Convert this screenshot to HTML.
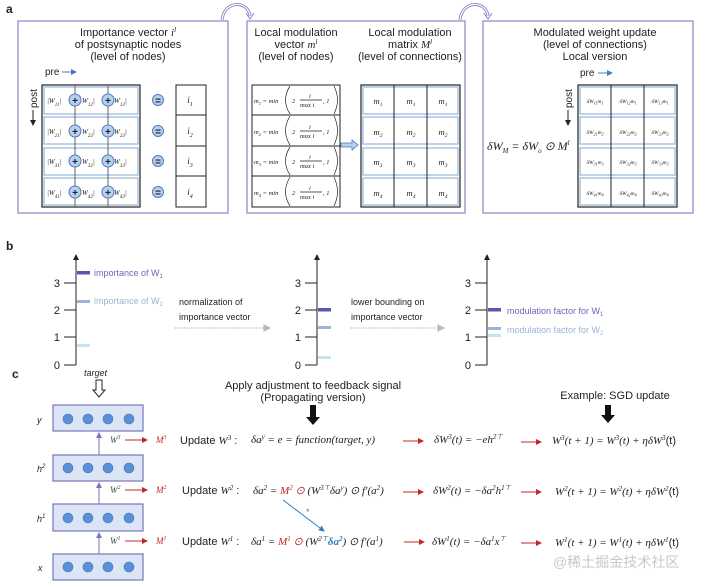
<!DOCTYPE html>
<html><head><meta charset="utf-8"><style>
body{margin:0;background:#fff;}
svg{display:block;}
.s{font-family:"Liberation Sans",sans-serif;}
.m{font-family:"Liberation Serif",serif;font-style:italic;}
</style></head><body>
<svg width="701" height="586" viewBox="0 0 701 586" xmlns="http://www.w3.org/2000/svg">
<defs>
<marker id="ab" markerWidth="6" markerHeight="6" refX="5" refY="3" orient="auto"><path d="M0,0 L6,3 L0,6z" fill="#4a7bc0"/></marker>
<marker id="ar" markerWidth="6" markerHeight="6" refX="5" refY="3" orient="auto"><path d="M0,0 L6,3 L0,6z" fill="#c0282b"/></marker>
<marker id="ak" markerWidth="6" markerHeight="6" refX="3" refY="3" orient="auto"><path d="M0,0 L6,3 L0,6z" fill="#222"/></marker>
<marker id="ap" markerWidth="6" markerHeight="6" refX="5" refY="3" orient="auto"><path d="M0,0 L6,3 L0,6z" fill="#7a76b8"/></marker>
<marker id="ag" markerWidth="6" markerHeight="6" refX="5" refY="3" orient="auto"><path d="M0,0 L6,3 L0,6z" fill="#bbb"/></marker>
<marker id="abl" markerWidth="6" markerHeight="6" refX="5" refY="3" orient="auto"><path d="M0,0 L6,3 L0,6z" fill="#2f7fc0"/></marker>
</defs>
<g class="s" font-size="12" fill="#222">
<text x="6" y="13" font-weight="bold" font-size="12">a</text>
<text x="6" y="250" font-weight="bold">b</text>
<text x="12" y="378" font-weight="bold">c</text>
</g>
<g fill="none" stroke="#8a85c8" stroke-width="1.2">
<rect x="18" y="21" width="210" height="192"/>
<rect x="247" y="21" width="218" height="192"/>
<rect x="483" y="21" width="210" height="192"/>
</g>
<path d="M222,20 C224,0 248,0 250,16" fill="none" stroke="#8a85c8" stroke-width="3"/>
<path d="M222,20 C224,0 248,0 250,16" fill="none" stroke="#fff" stroke-width="1.2"/>
<path d="M246,13 L250,19 L254,13" fill="none" stroke="#8a85c8" stroke-width="1"/>
<path d="M460,20 C462,0 486,0 488,16" fill="none" stroke="#8a85c8" stroke-width="3"/>
<path d="M460,20 C462,0 486,0 488,16" fill="none" stroke="#fff" stroke-width="1.2"/>
<path d="M484,13 L488,19 L492,13" fill="none" stroke="#8a85c8" stroke-width="1"/>
<g class="s" font-size="11" fill="#222" text-anchor="middle">
<text x="128" y="36">Importance vector <tspan class="m">i</tspan><tspan font-size="7" dy="-4" class="m">l</tspan></text>
<text x="128" y="48">of postsynaptic nodes</text>
<text x="128" y="60">(level of nodes)</text>
<text x="296" y="36">Local modulation</text>
<text x="296" y="48">vector <tspan class="m">m</tspan><tspan font-size="7" dy="-4" class="m">l</tspan></text>
<text x="296" y="60">(level of nodes)</text>
<text x="410" y="36">Local modulation</text>
<text x="410" y="48">matrix <tspan class="m">M</tspan><tspan font-size="7" dy="-4" class="m">l</tspan></text>
<text x="410" y="60">(level of connections)</text>
<text x="595" y="36">Modulated weight update</text>
<text x="595" y="48">(level of connections)</text>
<text x="595" y="60">Local version</text>
</g>
<g class="s" font-size="10" fill="#222">
<text x="45" y="75">pre</text>
<text x="580" y="76">pre</text>
<text transform="translate(37,108) rotate(-90)">post</text>
<text transform="translate(572,108) rotate(-90)">post</text>
</g>
<line x1="62" y1="72" x2="76" y2="72" stroke="#4a7bc0" marker-end="url(#ab)"/>
<line x1="598" y1="73" x2="612" y2="73" stroke="#4a7bc0" marker-end="url(#ab)"/>
<line x1="33" y1="110" x2="33" y2="123" stroke="#222" marker-end="url(#ak)"/>
<line x1="568" y1="110" x2="568" y2="123" stroke="#222" marker-end="url(#ak)"/>
<g>
<rect x="42" y="85" width="98" height="122" fill="none" stroke="#222" stroke-width="1.2"/>
<g fill="none" stroke="#a9c4e0" stroke-width="1.5">
<rect x="44" y="87" width="94" height="27"/><rect x="44" y="117" width="94" height="27"/><rect x="44" y="148" width="94" height="27"/><rect x="44" y="178" width="94" height="27"/>
</g>
<line x1="75" y1="85" x2="75" y2="207" stroke="#666"/><line x1="108" y1="85" x2="108" y2="207" stroke="#666"/>
<g fill="#b8d0ef" stroke="#4a7bc0" stroke-width="1">
<circle cx="75" cy="100" r="6"/><circle cx="108" cy="100" r="6"/>
<circle cx="75" cy="131" r="6"/><circle cx="108" cy="131" r="6"/>
<circle cx="75" cy="161" r="6"/><circle cx="108" cy="161" r="6"/>
<circle cx="75" cy="192" r="6"/><circle cx="108" cy="192" r="6"/>
<circle cx="158" cy="100" r="5.5"/><circle cx="158" cy="131" r="5.5"/><circle cx="158" cy="161" r="5.5"/><circle cx="158" cy="192" r="5.5"/>
</g>
<g class="s" font-size="10" font-weight="bold" fill="#222" text-anchor="middle">
<text x="75" y="104">+</text><text x="108" y="104">+</text><text x="75" y="135">+</text><text x="108" y="135">+</text>
<text x="75" y="165">+</text><text x="108" y="165">+</text><text x="75" y="196">+</text><text x="108" y="196">+</text>
<text x="158" y="104">=</text><text x="158" y="135">=</text><text x="158" y="165">=</text><text x="158" y="196">=</text>
</g>
<g class="m" font-size="7" fill="#222">
<text x="47" y="103">|W<tspan font-size="5" dy="3">11</tspan><tspan dy="-3">|</tspan></text><text x="82" y="103">W<tspan font-size="5" dy="3">12</tspan><tspan dy="-3">|</tspan></text><text x="114" y="103">W<tspan font-size="5" dy="3">13</tspan><tspan dy="-3">|</tspan></text>
<text x="47" y="134">|W<tspan font-size="5" dy="3">21</tspan><tspan dy="-3">|</tspan></text><text x="82" y="134">W<tspan font-size="5" dy="3">22</tspan><tspan dy="-3">|</tspan></text><text x="114" y="134">W<tspan font-size="5" dy="3">23</tspan><tspan dy="-3">|</tspan></text>
<text x="47" y="164">|W<tspan font-size="5" dy="3">31</tspan><tspan dy="-3">|</tspan></text><text x="82" y="164">W<tspan font-size="5" dy="3">32</tspan><tspan dy="-3">|</tspan></text><text x="114" y="164">W<tspan font-size="5" dy="3">33</tspan><tspan dy="-3">|</tspan></text>
<text x="47" y="195">|W<tspan font-size="5" dy="3">41</tspan><tspan dy="-3">|</tspan></text><text x="82" y="195">W<tspan font-size="5" dy="3">42</tspan><tspan dy="-3">|</tspan></text><text x="114" y="195">W<tspan font-size="5" dy="3">43</tspan><tspan dy="-3">|</tspan></text>
</g>
</g>
<rect x="176" y="85" width="30" height="122" fill="none" stroke="#222"/>
<g stroke="#222"><line x1="176" y1="115" x2="206" y2="115"/><line x1="176" y1="146" x2="206" y2="146"/><line x1="176" y1="176" x2="206" y2="176"/></g>
<g class="m" font-size="9" fill="#222" text-anchor="middle">
<text x="190" y="103">i<tspan font-size="6" dy="3">1</tspan></text><text x="190" y="134">i<tspan font-size="6" dy="3">2</tspan></text><text x="190" y="164">i<tspan font-size="6" dy="3">3</tspan></text><text x="190" y="195">i<tspan font-size="6" dy="3">4</tspan></text>
</g>
<rect x="252" y="85" width="88" height="122" fill="none" stroke="#222"/>
<g stroke="#222"><line x1="252" y1="115" x2="340" y2="115"/><line x1="252" y1="146" x2="340" y2="146"/><line x1="252" y1="176" x2="340" y2="176"/></g>
<g fill="none" stroke="#222" stroke-width="0.7">
<path d="M290,86 Q281,100 290,114 M334,86 Q341,100 334,114"/>
<path d="M290,116 Q281,131 290,145 M334,116 Q341,131 334,145"/>
<path d="M290,147 Q281,161 290,175 M334,147 Q341,161 334,175"/>
<path d="M290,177 Q281,192 290,206 M334,177 Q341,192 334,206"/>
<line x1="300" y1="100" x2="322" y2="100"/><line x1="300" y1="131" x2="322" y2="131"/><line x1="300" y1="161" x2="322" y2="161"/><line x1="300" y1="192" x2="322" y2="192"/>
</g>
<g class="m" font-size="6.5" fill="#222">
<text x="254" y="103">m<tspan font-size="4.5" dy="2">1</tspan><tspan dy="-2"> = min</tspan></text><text x="292" y="103">2</text><text x="309" y="98">i</text><text x="300" y="107">max i</text><text x="323" y="103">, 1</text>
<text x="254" y="134">m<tspan font-size="4.5" dy="2">2</tspan><tspan dy="-2"> = min</tspan></text><text x="292" y="134">2</text><text x="309" y="129">i</text><text x="300" y="138">max i</text><text x="323" y="134">, 1</text>
<text x="254" y="164">m<tspan font-size="4.5" dy="2">3</tspan><tspan dy="-2"> = min</tspan></text><text x="292" y="164">2</text><text x="309" y="159">i</text><text x="300" y="168">max i</text><text x="323" y="164">, 1</text>
<text x="254" y="195">m<tspan font-size="4.5" dy="2">4</tspan><tspan dy="-2"> = min</tspan></text><text x="292" y="195">2</text><text x="309" y="190">i</text><text x="300" y="199">max i</text><text x="323" y="195">, 1</text>
</g>
<path d="M341,143 h11 v-3 l6,5 l-6,5 v-3 h-11z" fill="#b8d0ef" stroke="#4a7bc0" stroke-width="0.8"/>
<rect x="361" y="85" width="99" height="122" fill="none" stroke="#222" stroke-width="1.2"/>
<g fill="none" stroke="#a9c4e0" stroke-width="1.5">
<rect x="363" y="87" width="95" height="27"/><rect x="363" y="117" width="95" height="27"/><rect x="363" y="148" width="95" height="27"/><rect x="363" y="178" width="95" height="27"/>
</g>
<g stroke="#222"><line x1="394" y1="85" x2="394" y2="207"/><line x1="427" y1="85" x2="427" y2="207"/></g>
<g class="m" font-size="8.5" fill="#222" text-anchor="middle">
<text x="378" y="104">m<tspan font-size="5.5" dy="2">1</tspan></text><text x="411" y="104">m<tspan font-size="5.5" dy="2">1</tspan></text><text x="443" y="104">m<tspan font-size="5.5" dy="2">1</tspan></text>
<text x="378" y="135">m<tspan font-size="5.5" dy="2">2</tspan></text><text x="411" y="135">m<tspan font-size="5.5" dy="2">2</tspan></text><text x="443" y="135">m<tspan font-size="5.5" dy="2">2</tspan></text>
<text x="378" y="165">m<tspan font-size="5.5" dy="2">3</tspan></text><text x="411" y="165">m<tspan font-size="5.5" dy="2">3</tspan></text><text x="443" y="165">m<tspan font-size="5.5" dy="2">3</tspan></text>
<text x="378" y="196">m<tspan font-size="5.5" dy="2">4</tspan></text><text x="411" y="196">m<tspan font-size="5.5" dy="2">4</tspan></text><text x="443" y="196">m<tspan font-size="5.5" dy="2">4</tspan></text>
</g>
<text x="487" y="150" class="m" font-size="12" fill="#222">δW<tspan font-size="7" dy="3">M</tspan><tspan dy="-3"> = δW</tspan><tspan font-size="7" dy="3">o</tspan><tspan dy="-3"> ⊙ M</tspan><tspan font-size="7" dy="-5">l</tspan></text>
<rect x="578" y="85" width="99" height="122" fill="none" stroke="#222" stroke-width="1.2"/>
<g fill="none" stroke="#a9c4e0" stroke-width="1.5">
<rect x="580" y="87" width="95" height="27"/><rect x="580" y="117" width="95" height="27"/><rect x="580" y="148" width="95" height="27"/><rect x="580" y="178" width="95" height="27"/>
</g>
<g stroke="#222"><line x1="611" y1="85" x2="611" y2="207"/><line x1="644" y1="85" x2="644" y2="207"/></g>
<g class="m" font-size="5.5" fill="#222" text-anchor="middle">
<text x="595" y="103">δW<tspan font-size="4" dy="1.5">11</tspan><tspan dy="-1.5">m</tspan><tspan font-size="4" dy="1.5">1</tspan></text><text x="628" y="103">δW<tspan font-size="4" dy="1.5">12</tspan><tspan dy="-1.5">m</tspan><tspan font-size="4" dy="1.5">1</tspan></text><text x="660" y="103">δW<tspan font-size="4" dy="1.5">13</tspan><tspan dy="-1.5">m</tspan><tspan font-size="4" dy="1.5">1</tspan></text>
<text x="595" y="134">δW<tspan font-size="4" dy="1.5">21</tspan><tspan dy="-1.5">m</tspan><tspan font-size="4" dy="1.5">2</tspan></text><text x="628" y="134">δW<tspan font-size="4" dy="1.5">22</tspan><tspan dy="-1.5">m</tspan><tspan font-size="4" dy="1.5">2</tspan></text><text x="660" y="134">δW<tspan font-size="4" dy="1.5">23</tspan><tspan dy="-1.5">m</tspan><tspan font-size="4" dy="1.5">2</tspan></text>
<text x="595" y="164">δW<tspan font-size="4" dy="1.5">31</tspan><tspan dy="-1.5">m</tspan><tspan font-size="4" dy="1.5">3</tspan></text><text x="628" y="164">δW<tspan font-size="4" dy="1.5">32</tspan><tspan dy="-1.5">m</tspan><tspan font-size="4" dy="1.5">3</tspan></text><text x="660" y="164">δW<tspan font-size="4" dy="1.5">33</tspan><tspan dy="-1.5">m</tspan><tspan font-size="4" dy="1.5">3</tspan></text>
<text x="595" y="195">δW<tspan font-size="4" dy="1.5">41</tspan><tspan dy="-1.5">m</tspan><tspan font-size="4" dy="1.5">4</tspan></text><text x="628" y="195">δW<tspan font-size="4" dy="1.5">42</tspan><tspan dy="-1.5">m</tspan><tspan font-size="4" dy="1.5">4</tspan></text><text x="660" y="195">δW<tspan font-size="4" dy="1.5">43</tspan><tspan dy="-1.5">m</tspan><tspan font-size="4" dy="1.5">4</tspan></text>
</g>
<g stroke="#222" stroke-width="1" fill="none">
<line x1="76" y1="365" x2="76" y2="257" marker-end="url(#ak)"/>
<line x1="317" y1="365" x2="317" y2="257" marker-end="url(#ak)"/>
<line x1="487" y1="365" x2="487" y2="257" marker-end="url(#ak)"/>
<path d="M64,283h12 M64,310h12 M64,337h12 M64,365h12"/>
<path d="M305,283h12 M305,310h12 M305,337h12 M305,365h12"/>
<path d="M475,283h12 M475,310h12 M475,337h12 M475,365h12"/>
</g>
<g class="s" font-size="11" fill="#222" text-anchor="end">
<text x="60" y="287">3</text><text x="60" y="314">2</text><text x="60" y="341">1</text><text x="60" y="369">0</text>
<text x="301" y="287">3</text><text x="301" y="314">2</text><text x="301" y="341">1</text><text x="301" y="369">0</text>
<text x="471" y="287">3</text><text x="471" y="314">2</text><text x="471" y="341">1</text><text x="471" y="369">0</text>
</g>
<g>
<rect x="77" y="271" width="13" height="3.5" fill="#5858b0"/>
<rect x="77" y="300" width="13" height="3" fill="#9ab4d8"/>
<rect x="77" y="344" width="13" height="3" fill="#c5e3f2"/>
<rect x="318" y="308" width="13" height="3.5" fill="#5858b0"/>
<rect x="318" y="326" width="13" height="3" fill="#9ab4d8"/>
<rect x="318" y="356" width="13" height="3" fill="#c5e3f2"/>
<rect x="488" y="308" width="13" height="3.5" fill="#5858b0"/>
<rect x="488" y="327" width="13" height="3" fill="#9ab4d8"/>
<rect x="488" y="334" width="13" height="3" fill="#c5e3f2"/>
</g>
<g class="s" font-size="9" fill="#222">
<text x="94" y="276" fill="#6a68b8">importance of W<tspan font-size="6" dy="2">1</tspan></text>
<text x="94" y="304" fill="#9ab4d8">importance of W<tspan font-size="6" dy="2">2</tspan></text>
<text x="507" y="314" fill="#6a68b8">modulation factor for W<tspan font-size="6" dy="2">1</tspan></text>
<text x="507" y="333" fill="#9ab4d8">modulation factor for W<tspan font-size="6" dy="2">2</tspan></text>
<text x="179" y="305">normalization of</text>
<text x="179" y="320">importance vector</text>
<text x="351" y="305">lower bounding on</text>
<text x="351" y="320">importance vector</text>
</g>
<line x1="175" y1="328" x2="270" y2="328" stroke="#bbb" stroke-width="1.3" stroke-dasharray="1.5,1.5" marker-end="url(#ag)"/>
<line x1="350" y1="328" x2="444" y2="328" stroke="#bbb" stroke-width="1.3" stroke-dasharray="1.5,1.5" marker-end="url(#ag)"/>
<g fill="#dbe5f5" stroke="#7a76b8" stroke-width="1.2">
<rect x="53" y="405" width="90" height="26"/><rect x="53" y="455" width="90" height="26"/><rect x="53" y="504" width="90" height="27"/><rect x="53" y="554" width="90" height="26"/>
</g>
<g fill="#5b8fd6" stroke="#4a76b8" stroke-width="0.6">
<circle cx="68" cy="419" r="5"/><circle cx="88" cy="419" r="5"/><circle cx="108" cy="419" r="5"/><circle cx="129" cy="419" r="5"/>
<circle cx="68" cy="468" r="5"/><circle cx="88" cy="468" r="5"/><circle cx="108" cy="468" r="5"/><circle cx="129" cy="468" r="5"/>
<circle cx="68" cy="518" r="5"/><circle cx="88" cy="518" r="5"/><circle cx="108" cy="518" r="5"/><circle cx="129" cy="518" r="5"/>
<circle cx="68" cy="567" r="5"/><circle cx="88" cy="567" r="5"/><circle cx="108" cy="567" r="5"/><circle cx="129" cy="567" r="5"/>
</g>
<g stroke="#7a76b8" stroke-width="1">
<line x1="99" y1="455" x2="99" y2="433" marker-end="url(#ap)"/>
<line x1="99" y1="504" x2="99" y2="483" marker-end="url(#ap)"/>
<line x1="99" y1="554" x2="99" y2="533" marker-end="url(#ap)"/>
</g>
<g class="s" font-size="9" font-style="italic" fill="#222">
<text x="37" y="423">y</text><text x="37" y="472">h<tspan font-size="6" dy="-4">2</tspan></text><text x="37" y="522">h<tspan font-size="6" dy="-4">1</tspan></text><text x="38" y="571">x</text>
<text x="84" y="376">target</text>
</g>
<path d="M96,380 h6 v10 h3 l-6,7 l-6,-7 h3z" fill="#fff" stroke="#222" stroke-width="1"/>
<g class="m" font-size="9" fill="#444">
<text x="110" y="443">W<tspan font-size="6" dy="-4">3</tspan></text>
<text x="110" y="493">W<tspan font-size="6" dy="-4">2</tspan></text>
<text x="110" y="544">W<tspan font-size="6" dy="-4">1</tspan></text>
</g>
<g stroke="#c0282b" stroke-width="1">
<line x1="125" y1="440" x2="147" y2="440" marker-end="url(#ar)"/>
<line x1="125" y1="490" x2="147" y2="490" marker-end="url(#ar)"/>
<line x1="125" y1="541" x2="147" y2="541" marker-end="url(#ar)"/>
<line x1="403" y1="441" x2="423" y2="441" marker-end="url(#ar)"/>
<line x1="403" y1="492" x2="423" y2="492" marker-end="url(#ar)"/>
<line x1="404" y1="542" x2="424" y2="542" marker-end="url(#ar)"/>
<line x1="521" y1="442" x2="541" y2="442" marker-end="url(#ar)"/>
<line x1="521" y1="492" x2="541" y2="492" marker-end="url(#ar)"/>
<line x1="521" y1="543" x2="541" y2="543" marker-end="url(#ar)"/>
</g>
<g class="m" font-size="9" fill="#c0282b">
<text x="156" y="443">M<tspan font-size="6" dy="-4">3</tspan></text>
<text x="156" y="493">M<tspan font-size="6" dy="-4">2</tspan></text>
<text x="156" y="544">M<tspan font-size="6" dy="-4">1</tspan></text>
</g>
<g class="s" font-size="11" fill="#222">
<text x="180" y="444">Update <tspan class="m">W</tspan><tspan font-size="7" dy="-4" class="m">3</tspan><tspan dy="4"> :</tspan></text>
<text x="182" y="494">Update <tspan class="m">W</tspan><tspan font-size="7" dy="-4" class="m">2</tspan><tspan dy="4"> :</tspan></text>
<text x="182" y="545">Update <tspan class="m">W</tspan><tspan font-size="7" dy="-4" class="m">1</tspan><tspan dy="4"> :</tspan></text>
<text x="313" y="389" text-anchor="middle">Apply adjustment to feedback signal</text>
<text x="313" y="401" text-anchor="middle">(Propagating version)</text>
<text x="615" y="399" text-anchor="middle">Example: SGD update</text>
</g>
<path d="M310,405 h6 v12 h4 l-7,8 l-7,-8 h4z" fill="#111"/>
<path d="M605,405 h6 v10 h4 l-7,8 l-7,-8 h4z" fill="#111"/>
<g class="m" font-size="11" fill="#222">
<text x="251" y="443">δa<tspan font-size="7" dy="-4">y</tspan><tspan dy="4"> = e = function(target, y)</tspan></text>
<text x="253" y="494">δa<tspan font-size="7" dy="-4">2</tspan><tspan dy="4"> = </tspan><tspan fill="#c0282b">M<tspan font-size="7" dy="-4">2</tspan><tspan dy="4"> ⊙</tspan></tspan><tspan> (W</tspan><tspan font-size="7" dy="-4">3⊤</tspan><tspan dy="4">δa</tspan><tspan font-size="7" dy="-4">y</tspan><tspan dy="4">) ⊙ f′(a</tspan><tspan font-size="7" dy="-4">2</tspan><tspan dy="4">)</tspan></text>
<text x="251" y="545">δa<tspan font-size="7" dy="-4">1</tspan><tspan dy="4"> = </tspan><tspan fill="#c0282b">M<tspan font-size="7" dy="-4">1</tspan><tspan dy="4"> ⊙</tspan></tspan><tspan> (W</tspan><tspan font-size="7" dy="-4">2⊤</tspan><tspan dy="4" fill="#2f7fc0" font-weight="bold">δa</tspan><tspan font-size="7" dy="-4" fill="#2f7fc0" font-weight="bold">2</tspan><tspan dy="4">) ⊙ f′(a</tspan><tspan font-size="7" dy="-4">1</tspan><tspan dy="4">)</tspan></text>
<text x="434" y="443">δW<tspan font-size="7" dy="-4">3</tspan><tspan dy="4">(t) = −eh</tspan><tspan font-size="7" dy="-4">2⊤</tspan></text>
<text x="433" y="494">δW<tspan font-size="7" dy="-4">2</tspan><tspan dy="4">(t) = −δa</tspan><tspan font-size="7" dy="-4">2</tspan><tspan dy="4">h</tspan><tspan font-size="7" dy="-4">1⊤</tspan></text>
<text x="432" y="545">δW<tspan font-size="7" dy="-4">1</tspan><tspan dy="4">(t) = −δa</tspan><tspan font-size="7" dy="-4">1</tspan><tspan dy="4">x</tspan><tspan font-size="7" dy="-4">⊤</tspan></text>
<text x="552" y="444">W<tspan font-size="7" dy="-4">3</tspan><tspan dy="4">(t + 1) = W</tspan><tspan font-size="7" dy="-4">3</tspan><tspan dy="4">(t) + ηδW</tspan><tspan font-size="7" dy="-4">3</tspan><tspan dy="4" font-style="normal" font-family="Liberation Sans">(t)</tspan></text>
<text x="555" y="495">W<tspan font-size="7" dy="-4">2</tspan><tspan dy="4">(t + 1) = W</tspan><tspan font-size="7" dy="-4">2</tspan><tspan dy="4">(t) + ηδW</tspan><tspan font-size="7" dy="-4">2</tspan><tspan dy="4" font-style="normal" font-family="Liberation Sans">(t)</tspan></text>
<text x="555" y="546">W<tspan font-size="7" dy="-4">1</tspan><tspan dy="4">(t + 1) = W</tspan><tspan font-size="7" dy="-4">1</tspan><tspan dy="4">(t) + ηδW</tspan><tspan font-size="7" dy="-4">1</tspan><tspan dy="4" font-style="normal" font-family="Liberation Sans">(t)</tspan></text>
</g>
<line x1="283" y1="500" x2="324" y2="531" stroke="#2f7fc0" stroke-width="1" marker-end="url(#abl)"/>
<text x="306" y="515" font-size="9" fill="#2f7fc0" class="s">*</text>
<text x="553" y="567" font-size="14" fill="#c8c8c8" style="font-family:'Liberation Sans','Noto Sans CJK SC',sans-serif">@稀土掘金技术社区</text>
</svg>
</body></html>
